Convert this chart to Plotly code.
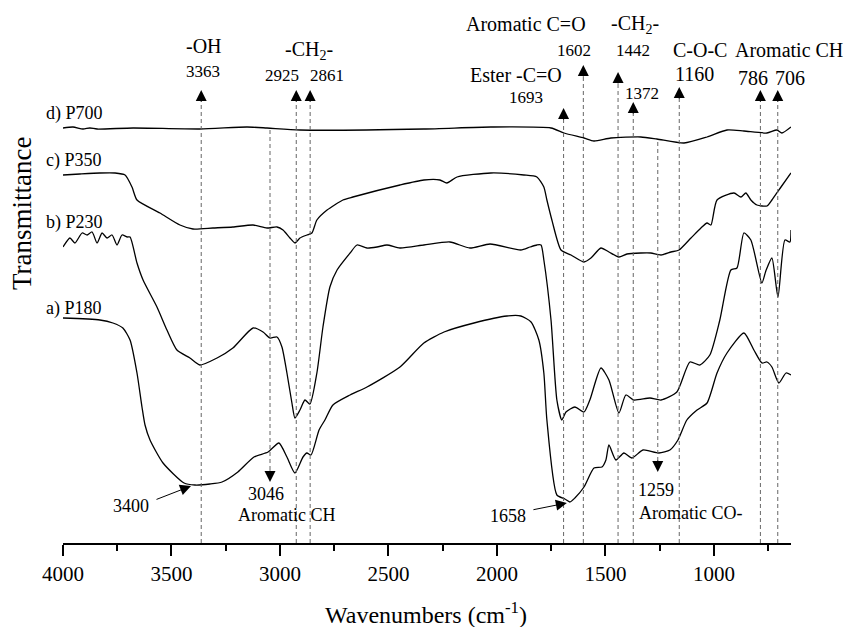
import plotly.graph_objects as go

FONT = "Liberation Serif"

# ---- spectra (wavenumber cm-1, transmittance in arbitrary offset units) ----
a_w = [4000, 3830, 3770, 3724, 3691, 3659, 3636, 3622, 3599, 3539, 3442, 3392, 3323, 3267, 3194, 3120,
       3055, 3005, 2968, 2931, 2894, 2876, 2857, 2820, 2793, 2756, 2677, 2599, 2447, 2337, 2244, 2106,
       1954, 1890, 1843, 1807, 1784, 1770, 1724, 1687, 1664, 1641, 1599, 1553, 1516, 1498, 1484, 1452,
       1415, 1378, 1327, 1254, 1203, 1166, 1125, 1078, 1032, 986, 940, 862, 816, 779, 756, 733, 701, 668, 645]
a_t = [225, 223, 220, 215, 203, 170, 136, 118, 103, 80, 60, 58, 59, 61, 71, 86,
       91, 100, 86, 70, 86, 90, 88, 113, 123, 138, 148, 156, 176, 200, 211, 220,
       227, 227, 221, 203, 170, 123, 48, 44, 41, 45, 56, 75, 76, 83, 98, 83,
       90, 85, 93, 90, 93, 103, 123, 133, 140, 170, 190, 210, 193, 180, 181, 176, 160, 170, 168]

b_w = [4000, 3968, 3945, 3912, 3889, 3866, 3843, 3820, 3797, 3774, 3751, 3728, 3705, 3691, 3659, 3631,
       3567, 3521, 3475, 3415, 3369, 3290, 3217, 3124, 3078, 3046, 3014, 2991, 2968, 2945, 2931, 2908,
       2885, 2862, 2830, 2802, 2770, 2737, 2677, 2645, 2599, 2553, 2507, 2447, 2337, 2217, 2125, 2032,
       1890, 1848, 1816, 1797, 1784, 1751, 1724, 1701, 1682, 1641, 1599, 1572, 1521, 1484, 1438, 1406,
       1369, 1295, 1244, 1171, 1111, 1065, 1019, 973, 922, 894, 862, 830, 779, 761, 733, 705, 673, 650, 645]
b_t = [296, 305, 300, 310, 308, 311, 300, 310, 305, 308, 298, 308, 306, 306, 280, 263,
       236, 213, 193, 185, 178, 185, 195, 215, 211, 205, 206, 196, 170, 140, 125, 133,
       143, 139, 170, 216, 256, 273, 290, 298, 295, 296, 298, 295, 298, 301, 295, 299,
       293, 296, 298, 298, 283, 223, 143, 123, 131, 136, 131, 143, 175, 163, 130, 148,
       143, 145, 143, 151, 181, 178, 188, 223, 273, 275, 310, 303, 260, 272, 285, 246, 303, 301, 313]

c_w = [4000, 3922, 3830, 3760, 3714, 3682, 3659, 3553, 3461, 3401, 3309, 3217, 3124, 3060, 3014, 2986,
       2954, 2931, 2908, 2876, 2853, 2830, 2783, 2710, 2664, 2447, 2337, 2263, 2231, 2184, 2028, 1876,
       1816, 1784, 1770, 1747, 1705, 1659, 1599, 1567, 1521, 1484, 1438, 1401, 1337, 1291, 1244, 1198,
       1161, 1106, 1060, 1032, 1014, 986, 908, 876, 853, 830, 802, 756, 733, 691, 645]
c_t = [368, 369, 370, 370, 368, 356, 343, 330, 318, 314, 315, 316, 318, 315, 316, 313,
       305, 300, 305, 308, 310, 323, 333, 343, 346, 358, 363, 363, 360, 366, 370, 368,
       366, 356, 343, 323, 293, 288, 281, 285, 295, 291, 286, 289, 290, 290, 288, 291,
       293, 305, 315, 320, 318, 343, 350, 346, 350, 343, 338, 337, 343, 356, 370]

d_w = [4000, 3954, 3908, 3876, 3843, 3677, 3369, 3152, 3060, 2908, 2337, 2028, 1751, 1691, 1599, 1553,
       1475, 1337, 1263, 1138, 1032, 940, 862, 756, 710, 687, 645]
d_t = [415, 416, 414, 415, 414, 415, 414, 416, 415, 413, 414, 416, 415, 410, 405, 402,
       405, 406, 404, 400, 406, 413, 412, 410, 413, 410, 416]

series_names = ["a) P180", "b) P230", "c) P350", "d) P700"]
series_w = [a_w, b_w, c_w, d_w]
series_t = [a_t, b_t, c_t, d_t]
label_t = [235, 321, 383, 430]

# ---- band markers ----
up_bands = [3363, 2925, 2861, 1693, 1602, 1442, 1372, 1160, 786, 706]
up_tip = [453, 453, 453, 435, 478, 471, 441, 456, 453, 453]
down_bands = [3046, 1259]
down_start = [413, 401]
down_tip = [61, 71]

# top labels: text, wavenumber, level, font size
top_text = ["-OH", "3363", "-CH<sub>2</sub>-", "2925", "2861", "Aromatic C=O", "-CH<sub>2</sub>-",
            "1602", "1442", "C-O-C", "Aromatic CH", "Ester -C=O", "1160", "786", "706", "1693", "1372"]
top_w = [3350, 3355, 2866, 2991, 2783, 1866, 1364, 1645, 1373, 1065, 655, 1912, 1092, 820, 648, 1866, 1332]
top_t = [497, 472, 493, 468, 468, 519, 519, 493, 493, 493, 493, 468, 469, 465, 465, 446, 450]
top_size = [20, 17, 20, 17, 17, 20, 20, 17, 17, 20, 20, 20, 20, 20, 20, 17, 17]

bot_text = ["3400", "3046", "Aromatic CH", "1658", "1259", "Aromatic CO-"]
bot_w = [3687, 3065, 2972, 1949, 1267, 1106]
bot_t = [37, 49, 28, 27, 53, 30]

# pointer arrows: tip (w, t) and tail (w, t)
ptr_tip_w = [3410, 1678]
ptr_tip_t = [57, 40]
ptr_tail_w = [3576, 1839]
ptr_tail_t = [43, 33]

fig = go.Figure()
for name, w, t in zip(series_names, series_w, series_t):
    fig.add_trace(go.Scatter(x=w, y=t, mode="lines", name=name,
                             line=dict(color="black", width=1.3, shape="spline", smoothing=0.6),
                             showlegend=False, hoverinfo="skip"))

shapes = []
annots = []
for w, tip in zip(up_bands, up_tip):
    shapes.append(dict(type="line", xref="x", yref="y", x0=w, x1=w, y0=0, y1=tip - 10,
                       line=dict(color="#666666", width=1, dash="4px,3px")))
    annots.append(dict(x=w, y=tip, xref="x", yref="y", ax=0, ay=13, text="", showarrow=True,
                       arrowhead=2, arrowsize=2.2, arrowwidth=1, arrowcolor="black", standoff=0))
for w, s, tip in zip(down_bands, down_start, down_tip):
    shapes.append(dict(type="line", xref="x", yref="y", x0=w, x1=w, y0=s, y1=tip + 10,
                       line=dict(color="#666666", width=1, dash="4px,3px")))
    annots.append(dict(x=w, y=tip, xref="x", yref="y", ax=0, ay=-13, text="", showarrow=True,
                       arrowhead=2, arrowsize=2.2, arrowwidth=1, arrowcolor="black", standoff=0))

for tw, tt, hw, ht in zip(ptr_tip_w, ptr_tip_t, ptr_tail_w, ptr_tail_t):
    annots.append(dict(x=tw, y=tt, xref="x", yref="y", ax=hw, ay=ht, axref="x", ayref="y",
                       text="", showarrow=True, arrowhead=2, arrowsize=2.2, arrowwidth=1,
                       arrowcolor="black", standoff=0))

for txt, w, t, s in zip(top_text, top_w, top_t, top_size):
    annots.append(dict(x=w, y=t, xref="x", yref="y", text=txt, showarrow=False,
                       font=dict(family=FONT, size=s, color="black")))
for txt, w, t in zip(bot_text, bot_w, bot_t):
    annots.append(dict(x=w, y=t, xref="x", yref="y", text=txt, showarrow=False,
                       font=dict(family=FONT, size=18, color="black")))
for name, t in zip(series_names, label_t):
    annots.append(dict(x=(44 - 63) / 728, y=t, xref="paper", yref="y", xanchor="left",
                       text=name, showarrow=False, font=dict(family=FONT, size=18, color="black")))

annots.append(dict(x=(22 - 63) / 728, y=330 / 543, xref="paper", yref="paper", xanchor="center",
                   yanchor="middle", text="Transmittance",
                   textangle=-90, showarrow=False, font=dict(family=FONT, size=27, color="black")))
annots.append(dict(x=(426 - 63) / 728, y=(543 - 613) / 543, xref="paper", yref="paper",
                   xanchor="center", yanchor="middle",
                   text="Wavenumbers (cm<sup>-1</sup>)", showarrow=False,
                   font=dict(family=FONT, size=24, color="black")))

fig.update_layout(
    width=848, height=627,
    margin=dict(l=63, r=57, t=0, b=84),
    paper_bgcolor="white", plot_bgcolor="white",
    font=dict(family=FONT, color="black"),
    shapes=shapes, annotations=annots,
    xaxis=dict(range=[4000, 645], showgrid=False, zeroline=False, showline=True,
               linecolor="black", linewidth=1.5, ticks="outside", ticklen=11, tickwidth=1.5,
               tickcolor="black", tickvals=[4000, 3500, 3000, 2500, 2000, 1500, 1000],
               tickfont=dict(family=FONT, size=21, color="black"),
               minor=dict(tickvals=[3750, 3250, 2750, 2250, 1750, 1250, 750], ticks="outside",
                          ticklen=6, tickwidth=1.5, tickcolor="black", showgrid=False)),
    yaxis=dict(range=[0, 543], visible=False, showgrid=False, zeroline=False),
)

fig.write_html("out.html")
